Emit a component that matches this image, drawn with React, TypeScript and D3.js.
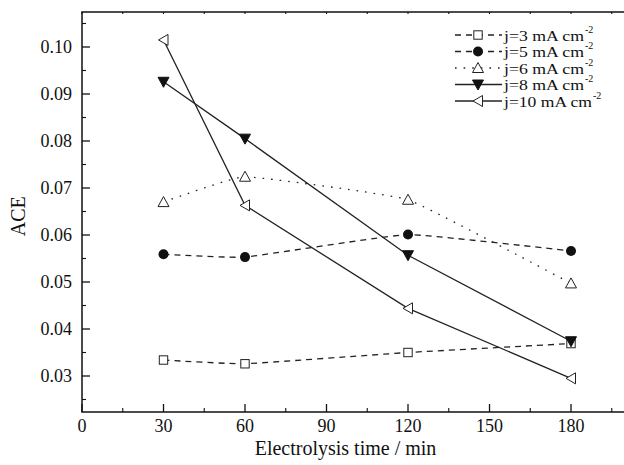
import React from "react";
import * as d3 from "d3";

const times = [30, 60, 120, 180];
const j3 = [0.0334, 0.0326, 0.035, 0.0369];
const j5 = [0.0559, 0.0553, 0.0601, 0.0566];
const j6 = [0.067, 0.0724, 0.0675, 0.0497];
const j8 = [0.0926, 0.0805, 0.0557, 0.0374];
const j10 = [0.1015, 0.0663, 0.0444, 0.0295];
const seriesLabels = ["j=3 mA cm", "j=5 mA cm", "j=6 mA cm", "j=8 mA cm", "j=10 mA cm"];
const xTicks = [0, 30, 60, 90, 120, 150, 180];
const yTicks = [0.03, 0.04, 0.05, 0.06, 0.07, 0.08, 0.09, 0.1];

const W = 624, H = 465;
const L = 82, T = 12, B = 412;
const x = d3.scaleLinear().domain([0, 200]).range([L, L + 200 * 2.7167]);
const y = d3.scaleLinear().domain([0.1, 0.04]).range([47, 329]);
const R = x(200);
const FONT = "'Liberation Serif', 'Times New Roman', serif";

type Sym = "square" | "circle" | "tri" | "invtri" | "ltri";
const styles: { data: number[]; sym: Sym; dash: string | null; curve: boolean }[] = [
  { data: j3, sym: "square", dash: "6,5", curve: true },
  { data: j5, sym: "circle", dash: "6,5", curve: true },
  { data: j6, sym: "tri", dash: "1.6,7", curve: true },
  { data: j8, sym: "invtri", dash: null, curve: false },
  { data: j10, sym: "ltri", dash: null, curve: false },
];

function Marker({ sym, cx, cy }: { sym: Sym; cx: number; cy: number }) {
  const sw = 1;
  if (sym === "square")
    return <rect x={cx - 4.2} y={cy - 4.2} width={8.4} height={8.4} fill="white" stroke="#222" strokeWidth={sw} />;
  if (sym === "circle") return <circle cx={cx} cy={cy} r={5} fill="#111" />;
  if (sym === "tri")
    return <path d={`M${cx},${cy - 5.5}L${cx + 5.5},${cy + 4.5}L${cx - 5.5},${cy + 4.5}Z`} fill="white" stroke="#222" strokeWidth={sw} />;
  if (sym === "invtri")
    return <path d={`M${cx - 5.5},${cy - 4.5}L${cx + 5.5},${cy - 4.5}L${cx},${cy + 5.5}Z`} fill="#111" stroke="#111" strokeWidth={sw} />;
  return <path d={`M${cx - 5},${cy}L${cx + 4.5},${cy - 5.5}L${cx + 4.5},${cy + 5.5}Z`} fill="white" stroke="#222" strokeWidth={sw} />;
}

export default function App() {
  const xMinor = d3.range(15, 200, 30);
  const yMinor = d3.range(0.025, 0.107, 0.01);
  const topTicks = d3.range(0, 200, 15);
  return (
    <svg width={W} height={H} style={{ position: "absolute", left: 0, top: 0, background: "white" }} fontFamily={FONT}>
      <rect x={0} y={0} width={W} height={H} fill="white" />
      {styles.map((s, i) => {
        const line = d3
          .line<number>()
          .x((_, k) => x(times[k]))
          .y((v) => y(v))
          .curve(s.curve ? d3.curveCardinal.tension(0.7) : d3.curveLinear);
        return (
          <path key={"l" + i} d={line(s.data) || ""} fill="none" stroke="#222" strokeWidth={1.3}
            strokeDasharray={s.dash || undefined} />
        );
      })}
      {styles.map((s, i) =>
        s.data.map((v, k) => <Marker key={`m${i}-${k}`} sym={s.sym} cx={x(times[k])} cy={y(v)} />)
      )}
      {/* frame */}
      <rect x={L} y={T} width={R - L} height={B - T} fill="none" stroke="#111" strokeWidth={1.5} />
      {/* x ticks */}
      {xTicks.map((t) => (
        <g key={"xt" + t}>
          <line x1={x(t)} x2={x(t)} y1={B} y2={B - 8} stroke="#111" strokeWidth={1.3} />
          <text x={x(t)} y={432} fontSize={18} textAnchor="middle" fill="#111">{t}</text>
        </g>
      ))}
      {xMinor.map((t) => (
        <line key={"xm" + t} x1={x(t)} x2={x(t)} y1={B} y2={B - 4} stroke="#111" strokeWidth={1.1} />
      ))}
      {topTicks.map((t) => (
        <line key={"tt" + t} x1={x(t)} x2={x(t)} y1={T} y2={T + 2} stroke="#111" strokeWidth={1.1} />
      ))}
      {/* y ticks */}
      {yTicks.map((t) => (
        <g key={"yt" + t}>
          <line x1={L} x2={L + 8} y1={y(t)} y2={y(t)} stroke="#111" strokeWidth={1.3} />
          <text x={72} y={y(t) + 6} fontSize={18} textAnchor="end" fill="#111">{t.toFixed(2)}</text>
        </g>
      ))}
      {yMinor.map((t) => (
        <line key={"ym" + t} x1={L} x2={L + 4} y1={y(t)} y2={y(t)} stroke="#111" strokeWidth={1.1} />
      ))}
      {/* axis titles */}
      <text x={x(97)} y={455} fontSize={20} textAnchor="middle" fill="#111">Electrolysis time / min</text>
      <text transform={`translate(25,${y(0.064)}) rotate(-90)`} fontSize={20} textAnchor="middle" fill="#111">ACE</text>
      {/* legend */}
      {styles.map((s, i) => {
        const cy = 35 + i * 16.5;
        const label = seriesLabels[i];
        const tw = label.length > 9 ? 88 : 80;
        return (
          <g key={"lg" + i}>
            <line x1={455} x2={502} y1={cy} y2={cy} stroke="#222" strokeWidth={1.3}
              strokeDasharray={s.dash || undefined} />
            <Marker sym={s.sym} cx={478} cy={cy} />
            <text x={504} y={cy + 5.5} fontSize={15.5} fill="#111" textLength={tw} lengthAdjust="spacingAndGlyphs">
              {label}
            </text>
            <text x={504 + tw + 1} y={cy - 2.5} fontSize={10} fill="#111">-2</text>
          </g>
        );
      })}
    </svg>
  );
}
